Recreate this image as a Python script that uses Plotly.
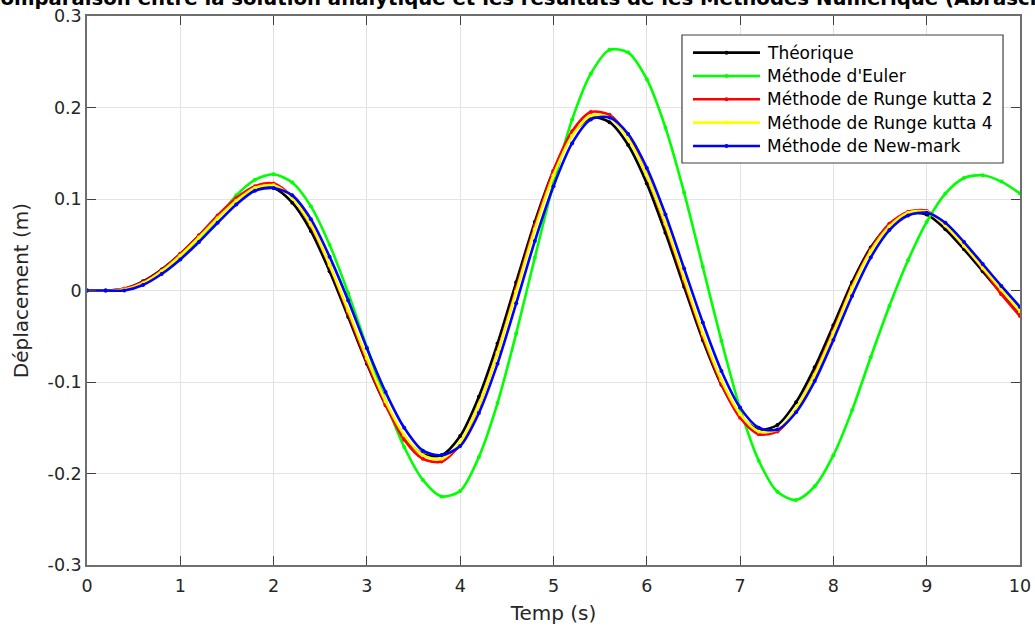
import plotly.graph_objects as go

# time samples (s)
temps = [round(i * 0.2, 1) for i in range(51)]

theorique = [0.000, 0.000, 0.002, 0.010, 0.023, 0.040, 0.060, 0.081, 0.099, 0.111,
             0.112, 0.096, 0.065, 0.021, -0.029, -0.080, -0.125, -0.160, -0.179, -0.180,
             -0.159, -0.116, -0.058, 0.009, 0.075, 0.131, 0.171, 0.189, 0.184, 0.159,
             0.117, 0.063, 0.004, -0.054, -0.103, -0.137, -0.152, -0.147, -0.122, -0.084,
             -0.038, 0.009, 0.047, 0.072, 0.084, 0.083, 0.067, 0.045, 0.021, -0.003,
             -0.026]

euler = [0.000, 0.000, 0.001, 0.008, 0.021, 0.037, 0.057, 0.079, 0.104, 0.121,
         0.127, 0.118, 0.092, 0.050, -0.003, -0.062, -0.121, -0.171, -0.207, -0.225,
         -0.219, -0.182, -0.123, -0.047, 0.036, 0.117, 0.187, 0.237, 0.263, 0.260,
         0.231, 0.178, 0.107, 0.026, -0.055, -0.129, -0.186, -0.220, -0.229, -0.214,
         -0.180, -0.131, -0.073, -0.017, 0.033, 0.075, 0.106, 0.123, 0.126, 0.119,
         0.106]

rk2 = [0.000, 0.000, 0.002, 0.009, 0.022, 0.040, 0.060, 0.082, 0.101, 0.114,
       0.117, 0.102, 0.071, 0.027, -0.025, -0.078, -0.125, -0.163, -0.184, -0.187,
       -0.168, -0.125, -0.067, 0.002, 0.071, 0.131, 0.174, 0.195, 0.192, 0.168,
       0.126, 0.071, 0.010, -0.050, -0.102, -0.139, -0.157, -0.154, -0.130, -0.091,
       -0.044, 0.005, 0.045, 0.073, 0.086, 0.087, 0.071, 0.049, 0.024, -0.004,
       -0.028]

rk4 = [0.000, 0.000, 0.001, 0.008, 0.021, 0.038, 0.058, 0.079, 0.098, 0.112,
       0.115, 0.101, 0.072, 0.028, -0.022, -0.074, -0.121, -0.158, -0.180, -0.184,
       -0.166, -0.125, -0.068, -0.001, 0.067, 0.126, 0.169, 0.191, 0.189, 0.166,
       0.126, 0.073, 0.013, -0.047, -0.098, -0.135, -0.154, -0.152, -0.129, -0.092,
       -0.046, 0.003, 0.043, 0.070, 0.085, 0.086, 0.071, 0.049, 0.025, 0.001,
       -0.023]

newmark = [0.000, 0.000, 0.000, 0.006, 0.018, 0.034, 0.053, 0.074, 0.094, 0.109,
           0.112, 0.104, 0.078, 0.037, -0.011, -0.063, -0.111, -0.150, -0.175, -0.180,
           -0.170, -0.134, -0.080, -0.014, 0.054, 0.114, 0.161, 0.187, 0.189, 0.171,
           0.134, 0.083, 0.024, -0.035, -0.088, -0.128, -0.150, -0.152, -0.133, -0.099,
           -0.054, -0.006, 0.036, 0.066, 0.082, 0.085, 0.074, 0.053, 0.029, 0.005,
           -0.018]

series_names = ["Théorique", "Méthode d'Euler", "Méthode de Runge kutta 2",
                "Méthode de Runge kutta 4", "Méthode de New-mark"]
series_values = [theorique, euler, rk2, rk4, newmark]
series_colors = ["#000000", "#00ff00", "#ff0000", "#ffff00", "#0000ff"]

x_ticks = list(range(0, 11))
y_ticks = [-0.3, -0.2, -0.1, 0, 0.1, 0.2, 0.3]
y_tick_text = ["-0.3", "-0.2", "-0.1", "0", "0.1", "0.2", "0.3"]

title_text = ("Comparaison entre la solution analytique et les résultats de les "
              "Méthodes Numérique (Abrasch)")

FONT = "DejaVu Sans, Verdana, sans-serif"

fig = go.Figure()
for name, vals, col in zip(series_names, series_values, series_colors):
    fig.add_trace(go.Scatter(
        x=temps, y=vals, name=name, mode="lines+markers",
        line=dict(color=col, width=2.6, shape="spline", smoothing=0.8),
        marker=dict(color=col, size=4),
        showlegend=False,
    ))

axis_common = dict(
    showline=True, linecolor="#6e6e6e", linewidth=1.5, mirror="allticks",
    ticks="inside", ticklen=9, tickcolor="#404040", tickwidth=1,
    showgrid=True, gridcolor="#e3e3e3", gridwidth=1,
    zeroline=False, automargin=False, ticklabeloverflow="allow",
    tickfont=dict(family=FONT, size=17.5, color="#262626"),
)

fig.update_xaxes(range=[0, 10], tickvals=x_ticks, ticklabelstandoff=4,
                 title=dict(text="Temp (s)", font=dict(family=FONT, size=20, color="#262626"),
                            standoff=11),
                 **axis_common)
fig.update_yaxes(range=[-0.3, 0.3], tickvals=y_ticks, ticktext=y_tick_text,
                 title=dict(text="Déplacement (m)", font=dict(family=FONT, size=20, color="#262626"),
                            standoff=14),
                 **axis_common)

# title (partly outside the page, as in the reference)
fig.add_annotation(
    text="<b>" + title_text + "</b>", xref="paper", yref="paper",
    x=-0.1104, y=1.0069, xanchor="left", yanchor="bottom", showarrow=False,
    font=dict(family=FONT, size=19.7, color="#000000"),
)

# legend box drawn in paper coordinates
leg_x0, leg_x1, leg_y0, leg_y1 = 0.6377, 0.9818, 0.7322, 0.9654
row_y = [0.9332, 0.8907, 0.8483, 0.8058, 0.7632]
line_x0, line_x1 = 0.6495, 0.7213
text_x = 0.7267

fig.add_shape(type="rect", xref="paper", yref="paper",
              x0=leg_x0, x1=leg_x1, y0=leg_y0, y1=leg_y1,
              line=dict(color="#404040", width=1.2), fillcolor="white", layer="above")
for name, col, yy in zip(series_names, series_colors, row_y):
    fig.add_shape(type="line", xref="paper", yref="paper",
                  x0=line_x0, x1=line_x1, y0=yy, y1=yy,
                  line=dict(color=col, width=2.6), layer="above")
    fig.add_shape(type="circle", xref="paper", yref="paper",
                  xsizemode="pixel", ysizemode="pixel",
                  xanchor=(line_x0 + line_x1) / 2, yanchor=yy,
                  x0=-2, x1=2, y0=-2, y1=2,
                  line=dict(color=col, width=0), fillcolor=col, layer="above")
    fig.add_annotation(text=name, xref="paper", yref="paper", x=text_x, y=yy,
                       xanchor="left", yanchor="middle", showarrow=False,
                       font=dict(family=FONT, size=17, color="#000000"))

fig.update_layout(
    width=1035, height=632,
    margin=dict(l=87, r=15, t=16, b=67),
    paper_bgcolor="white", plot_bgcolor="white",
    showlegend=False,
)

fig.write_html("out.html",
               config={"displayModeBar": False},
               post_script="document.body.style.margin='0';")
